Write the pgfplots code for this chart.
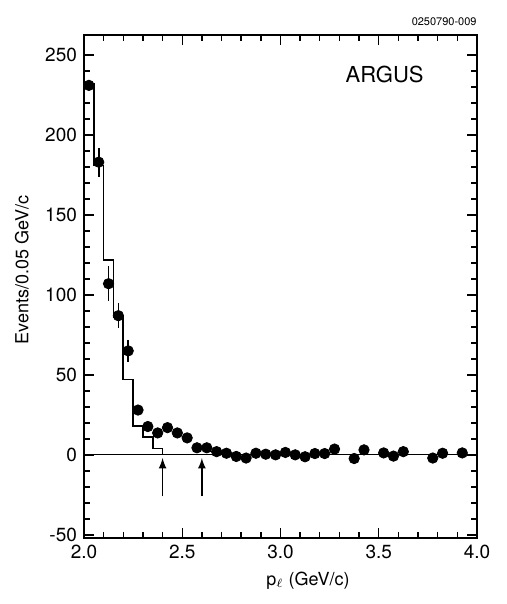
\documentclass[border=0pt]{standalone}
\usepackage{fontspec}
\setmainfont{TeX Gyre Heros}
\usepackage{pgfplots}
\pgfplotsset{compat=1.18}
\begin{document}
\begin{tikzpicture}
\begin{axis}[
    scale only axis,
    width=196.5pt, height=251.5pt,
    xmin=2.0, xmax=4.0,
    ymin=-52, ymax=262.5,
    clip=false,
    axis line style={line width=1.4pt},
    tick style={black, line width=0.7pt},
    tick align=inside,
    major tick length=5pt,
    minor tick length=3pt,
    xtick={2.0,2.5,3.0,3.5,4.0},
    ytick={-50,0,50,100,150,200,250},
    minor x tick num=4,
    minor y tick num=4,
    /pgf/number format/assume math mode=true,
    xticklabel style={/pgf/number format/.cd, fixed, fixed zerofill, precision=1},
    ticklabel style={font=\fontsize{9.5}{11}\selectfont},
    xlabel={p$_{\ell}$ (GeV/c)},
    ylabel={Events/0.05 GeV/c},
    label style={font=\fontsize{9}{11}\selectfont},
    xlabel style={at={(rel axis cs:0.57,-0.084)}, anchor=center},
    ylabel style={at={(rel axis cs:-0.158,0.533)}, anchor=center},
]
% invisible frame giving the picture the reference proportions
\path (rel axis cs:-0.2137,-0.1312) rectangle (rel axis cs:1.0763,1.0696);

% zero line
\addplot[black, line width=0.5pt] coordinates {(2.0,0) (4.0,0)};

% simulated spectrum (histogram)
\addplot[const plot, black, line width=0.8pt] coordinates {
    (2.0,232) (2.05,181) (2.10,122) (2.15,86) (2.20,47)
    (2.25,18) (2.30,11) (2.35,4) (2.40,0)
};

% data points
\addplot[only marks, mark=*, mark size=2.6pt, black,
    error bars/.cd, y dir=both, y explicit,
    error bar style={line width=0.8pt}, error mark=none] coordinates {
    (2.025,231) +- (0,0)
    (2.075,183) +- (0,9)
    (2.125,107) +- (0,11)
    (2.175,87) +- (0,8)
    (2.225,65) +- (0,7)
    (2.275,28) (2.325,17.7) (2.375,13.7) (2.425,17) (2.475,13.7)
    (2.525,10.6) (2.575,4.4) (2.625,4.4) (2.675,2) (2.725,1)
    (2.775,-1) (2.825,-2) (2.875,1) (2.925,0.4) (2.975,0)
    (3.025,1.5) (3.075,0) (3.125,-1.2) (3.175,0.8) (3.225,0.8)
    (3.275,3.6) (3.375,-2.3) (3.425,3.1) (3.525,1.2) (3.575,-0.8)
    (3.625,2) (3.775,-2) (3.825,1) (3.925,1.2)
};

% arrows marking the momentum window
\draw[-latex, line width=0.8pt] (axis cs:2.4,-26) -- (axis cs:2.4,-2);
\draw[-latex, line width=0.8pt] (axis cs:2.6,-26) -- (axis cs:2.6,-2);

\node[font=\fontsize{11}{13}\selectfont] at (axis cs:3.53,238) {ARGUS};
\node[anchor=south east, font=\fontsize{5.5}{6}\selectfont, inner sep=0pt]
    at (rel axis cs:1,1.018) {0250790-009};
\end{axis}
\end{tikzpicture}
\end{document}
